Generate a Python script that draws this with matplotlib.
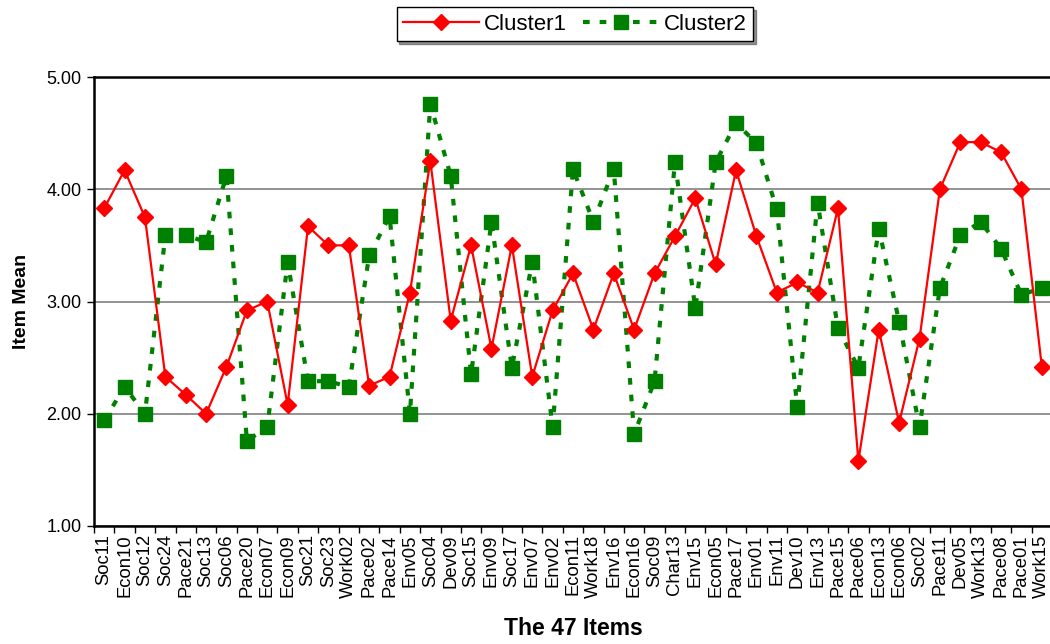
import numpy as np
import matplotlib.pyplot as plt
from matplotlib.ticker import FixedLocator

plt.rcParams['font.family'] = ['Liberation Sans', 'DejaVu Sans']

items = ['Soc11', 'Econ10', 'Soc12', 'Soc24', 'Pace21', 'Soc13', 'Soc06', 'Pace20',
         'Econ07', 'Econ09', 'Soc21', 'Soc23', 'Work02', 'Pace02', 'Pace14', 'Env05',
         'Soc04', 'Dev09', 'Soc15', 'Env09', 'Soc17', 'Env07', 'Env02', 'Econ11',
         'Work18', 'Env16', 'Econ16', 'Soc09', 'Char13', 'Env15', 'Econ05', 'Pace17',
         'Env01', 'Env11', 'Dev10', 'Env13', 'Pace15', 'Pace06', 'Econ13', 'Econ06',
         'Soc02', 'Pace11', 'Dev05', 'Work13', 'Pace08', 'Pace01', 'Work15']

cluster1 = [3.83, 4.17, 3.75, 2.33, 2.17, 2.00, 2.42, 2.92, 3.00, 2.08,
            3.67, 3.50, 3.50, 2.25, 2.33, 3.08, 4.25, 2.83, 3.50, 2.58,
            3.50, 2.33, 2.92, 3.25, 2.75, 3.25, 2.75, 3.25, 3.58, 3.92,
            3.33, 4.17, 3.58, 3.08, 3.17, 3.08, 3.83, 1.58, 2.75, 1.92,
            2.67, 4.00, 4.42, 4.42, 4.33, 4.00, 2.42]

cluster2 = [1.94, 2.24, 2.00, 3.59, 3.59, 3.53, 4.12, 1.76, 1.88, 3.35,
            2.29, 2.29, 2.24, 3.41, 3.76, 2.00, 4.76, 4.12, 2.35, 3.71,
            2.41, 3.35, 1.88, 4.18, 3.71, 4.18, 1.82, 2.29, 4.24, 2.94,
            4.24, 4.59, 4.41, 3.82, 2.06, 3.88, 2.76, 2.41, 3.65, 2.82,
            1.88, 3.12, 3.59, 3.71, 3.47, 3.06, 3.12]

x = np.arange(len(items))

fig = plt.figure(figsize=(10.5, 6.44), dpi=100)
ax = fig.add_axes([94 / 1050, 1 - 526 / 644, 958 / 1050, 449 / 644])

ax.plot(x, cluster1, color='#ff0000', lw=1.6, marker='D', ms=8.5,
        mec='#ff0000', mfc='#ff0000', label='Cluster1', zorder=4, clip_on=False)
ax.plot(x, cluster2, color='#008000', lw=3, ls=(0, (1.6, 2.4)), marker='s', ms=10.5,
        mec='#008000', mfc='#008000', label='Cluster2', zorder=3, clip_on=False)

ax.set_xlim(-0.5, len(items) - 0.5)
ax.set_ylim(1, 5)
ax.set_yticks([1, 2, 3, 4, 5])
ax.set_yticklabels(['%.2f' % v for v in [1, 2, 3, 4, 5]], fontsize=13)
ax.yaxis.grid(True, color='#808080', lw=1.2)
ax.set_axisbelow(True)

ax.set_xticks(x)
ax.set_xticklabels(items, rotation=90, fontsize=13.3)
ax.tick_params(axis='x', which='major', length=0, pad=6)
ax.xaxis.set_minor_locator(FixedLocator(np.arange(-0.5, len(items), 1)))
ax.tick_params(axis='x', which='minor', length=5, width=1, direction='out')
ax.tick_params(axis='y', length=5, width=1, direction='out', pad=4)

for side in ['left', 'bottom', 'top']:
    ax.spines[side].set_linewidth(1.8)
ax.spines['right'].set_visible(False)

ax.set_xlabel('The 47 Items', fontsize=16.5, fontweight='bold', labelpad=14)
ax.set_ylabel('Item Mean', fontsize=14, fontweight='bold', labelpad=12)

fig.legend(loc='upper center', bbox_to_anchor=(575 / 1050, 1 - 7 / 644), ncol=2,
           fontsize=16, frameon=True, fancybox=False, borderaxespad=0,
           shadow={'alpha': 0.6}, edgecolor='black', handlelength=3.4,
           columnspacing=0.7, handletextpad=0.25, borderpad=0.3)

fig.savefig('out.png', dpi=100)
